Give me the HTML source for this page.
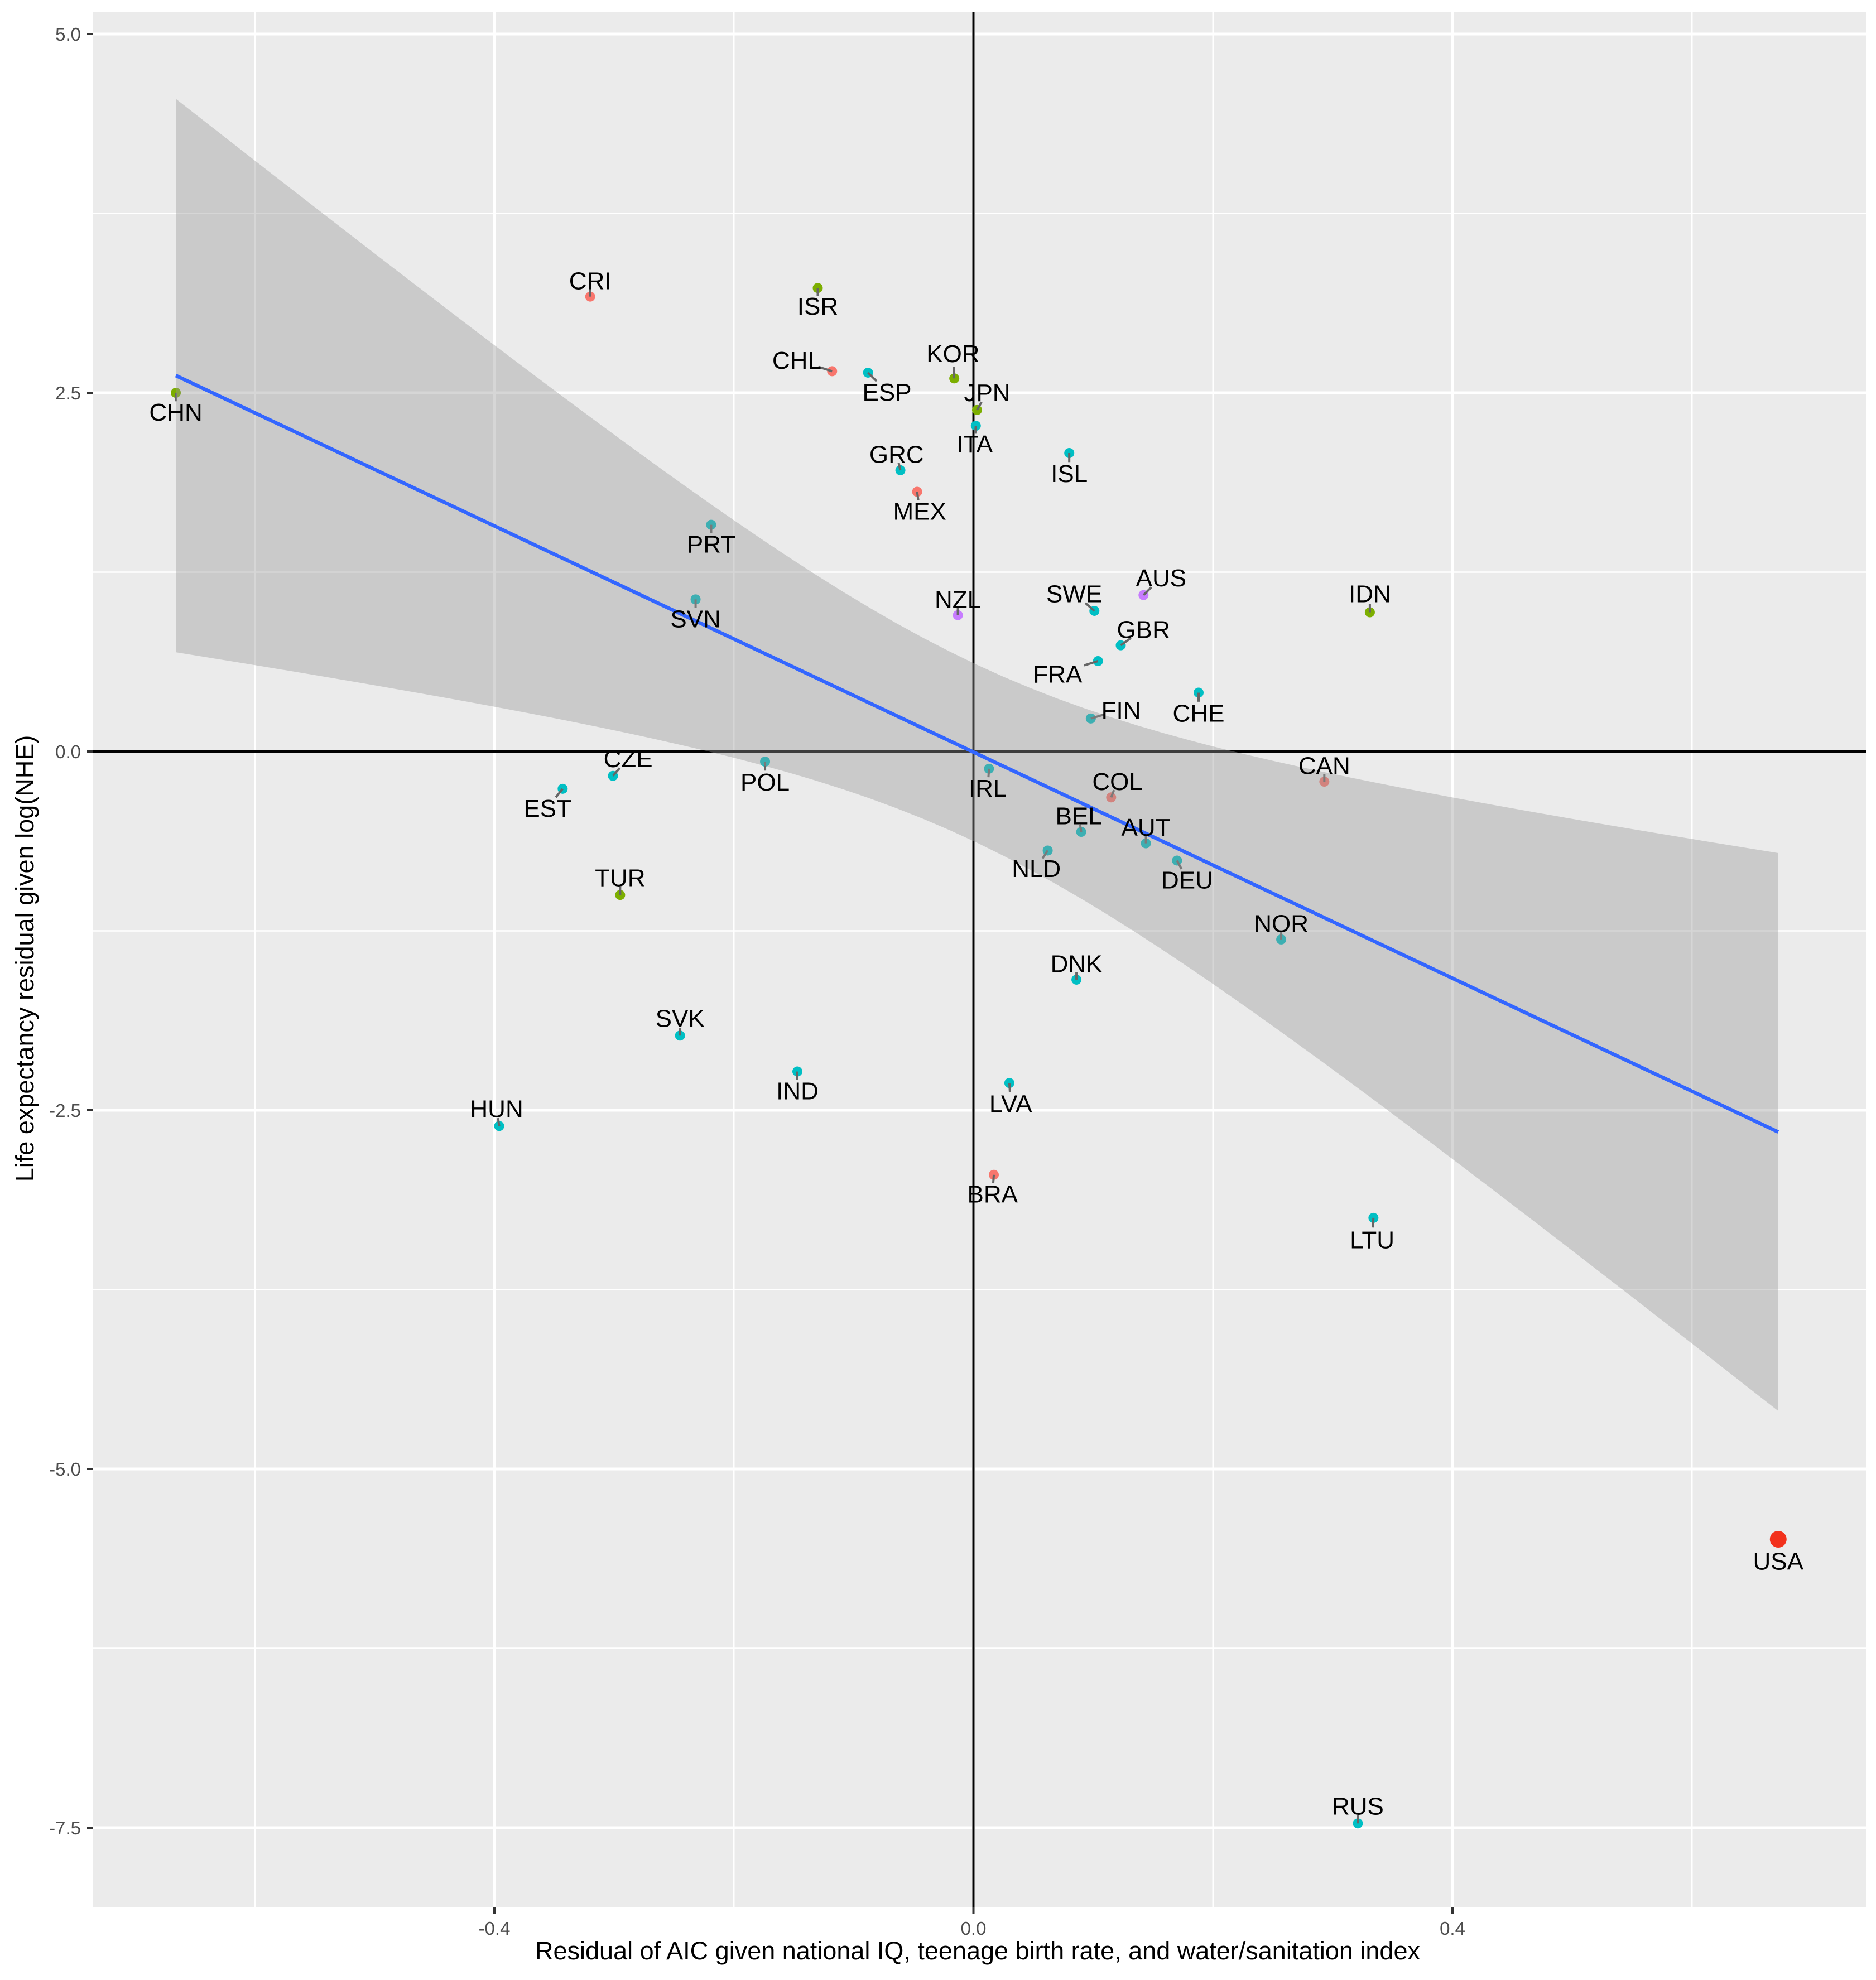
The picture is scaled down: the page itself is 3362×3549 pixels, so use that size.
<!DOCTYPE html>
<html><head><meta charset="utf-8"><style>
html,body{margin:0;padding:0;background:#fff;}
svg{display:block;}
text{font-family:"Liberation Sans",sans-serif;}
</style></head><body>
<svg id="chart" width="3362" height="3549" viewBox="0 0 3362 3549" xmlns="http://www.w3.org/2000/svg">
<rect x="167" y="22" width="3177" height="3397" fill="#EBEBEB"/>
<g id="grid"></g><g id="zero"></g><g id="pts"></g><g id="band"></g><g id="labels"></g><g id="axes"></g>
<text x="1752" y="3512" font-size="45" text-anchor="middle" fill="#000">Residual of AIC given national IQ, teenage birth rate, and water/sanitation index</text>
<text transform="translate(60,1718) rotate(-90)" font-size="45" text-anchor="middle" fill="#000">Life expectancy residual given log(NHE)</text>
</svg>
<script>
const countries=["CHN","CRI","ISR","CHL","ESP","KOR","JPN","ITA","GRC","MEX","ISL","PRT","SVN","NZL","SWE","AUS","IDN","GBR","FRA","CHE","FIN","CAN","CZE","EST","POL","IRL","COL","BEL","AUT","NLD","DEU","TUR","NOR","DNK","SVK","IND","LVA","HUN","BRA","LTU","USA","RUS"];
const xVals=[-0.666,-0.320,-0.130,-0.118,-0.088,-0.016,0.003,0.002,-0.061,-0.047,0.080,-0.219,-0.232,-0.013,0.101,0.142,0.331,0.123,0.104,0.188,0.098,0.293,-0.301,-0.343,-0.174,0.013,0.115,0.090,0.144,0.062,0.170,-0.295,0.257,0.086,-0.245,-0.147,0.030,-0.396,0.017,0.334,0.672,0.321];
const yVals=[2.50,3.17,3.23,2.65,2.64,2.60,2.38,2.27,1.96,1.81,2.08,1.58,1.06,0.95,0.98,1.09,0.97,0.74,0.63,0.41,0.23,-0.21,-0.17,-0.26,-0.07,-0.12,-0.32,-0.56,-0.64,-0.69,-0.76,-1.00,-1.31,-1.59,-1.98,-2.23,-2.31,-2.61,-2.95,-3.25,-5.49,-7.47];
const groups=["g","r","g","r","c","g","g","c","c","r","c","c","c","p","c","p","g","c","c","c","c","r","c","c","c","c","r","c","c","c","c","g","c","c","c","c","c","c","r","c","u","c"];
// label offsets (display units, scaled later)
const labOff=[[0,15],[0,-13],[0,14],[-28,-9],[15,15],[-1,-20],[8,-14],[-1,14],[-3,-13],[2,15],[0,16],[0,15],[0,15],[0,-13],[-16,-14],[14,-14],[0,-15],[18,-13],[-32,10],[0,16],[24,-7],[0,-13],[12,-14],[-12,15],[0,16],[-1,15],[5,-13],[-2,-13],[0,-13],[-9,14],[8,15],[0,-14],[0,-13],[0,-13],[0,-14],[0,15],[1,16],[-2,-14],[-1,15],[-1,17],[0,17],[0,-14]];
const xTicks=[-0.4,0.0,0.4], xTickLabels=["-0.4","0.0","0.4"];
const xMinor=[-0.6,-0.2,0.2,0.6];
const yTicks=[5.0,2.5,0.0,-2.5,-5.0,-7.5], yTickLabels=["5.0","2.5","0.0","-2.5","-5.0","-7.5"];
const yMinor=[3.75,1.25,-1.25,-3.75,-6.25];
const fitIntercept=-0.004, fitSlope=-3.94, fitX=[-0.666,0.672];
const se0=0.62, seSlope=2.742;
const colors={r:"#F8766D",g:"#7CAE00",c:"#00BFC4",p:"#C77CFF",u:"#F2311C"};
const NS="http://www.w3.org/2000/svg";
const L=167,R=3344,T=22,B=3419;
const X=v=>1744.5+v*2146.25, Y=v=>1347-v*257.2;
function mk(tag,attrs,parent){const e=document.createElementNS(NS,tag);for(const k in attrs)e.setAttribute(k,attrs[k]);parent.appendChild(e);return e;}
const grid=document.getElementById('grid');
xMinor.forEach(v=>{const e=mk('line',{x1:X(v),x2:X(v),y1:T,y2:B,stroke:'#fff','stroke-width':2.5},grid);

});
yMinor.forEach(v=>{const e=mk('line',{x1:L,x2:R,y1:Y(v),y2:Y(v),stroke:'#fff','stroke-width':2.5},grid);

});
xTicks.forEach(v=>{const e=mk('line',{x1:X(v),x2:X(v),y1:T,y2:B,stroke:'#fff','stroke-width':5},grid);

});
yTicks.forEach(v=>{const e=mk('line',{x1:L,x2:R,y1:Y(v),y2:Y(v),stroke:'#fff','stroke-width':5},grid);

});
const zero=document.getElementById('zero');
let z1=mk('line',{x1:X(0),x2:X(0),y1:T,y2:B,stroke:'#000','stroke-width':4},zero);


let z2=mk('line',{x1:L,x2:R,y1:Y(0),y2:Y(0),stroke:'#000','stroke-width':4},zero);


const pts=document.getElementById('pts'), labs=document.getElementById('labels');
const S=2.261;
countries.forEach((c,i)=>{
 const cx=X(xVals[i]), cy=Y(yVals[i]);
 const big=groups[i]==='u';
 const p=mk('circle',{cx:cx,cy:cy,r:big?15:9,fill:colors[groups[i]]},pts);
 
 
 const lx=cx+labOff[i][0]*S, ly=cy+labOff[i][1]*S;
 const dx=lx-cx, dy=ly-cy, d=Math.hypot(dx,dy);
 if(!big){const seg=mk('line',{x1:cx,y1:cy,x2:cx+dx/d*Math.min(d*0.45,26),y2:cy+dy/d*Math.min(d*0.45,26),stroke:'#666','stroke-width':4},pts);
 
 }
 const t=mk('text',{x:lx,y:ly+16,'font-size':44,'text-anchor':'middle',fill:'#000'},labs);
 t.textContent=c;
 
 
});
const band=document.getElementById('band');
const up=[],lo=[];
for(let k=0;k<=60;k++){const x=fitX[0]+(fitX[1]-fitX[0])*k/60;const f=fitIntercept+fitSlope*x;const hw=Math.sqrt(se0*se0+seSlope*seSlope*x*x);up.push([X(x),Y(f+hw)]);lo.push([X(x),Y(f-hw)]);}
const poly=up.concat(lo.reverse()).map(p=>p.join(',')).join(' ');
const bp=mk('polygon',{points:poly,fill:'#999999','fill-opacity':0.4},band);


const fl=mk('line',{x1:X(fitX[0]),y1:Y(fitIntercept+fitSlope*fitX[0]),x2:X(fitX[1]),y2:Y(fitIntercept+fitSlope*fitX[1]),stroke:'#3366FF','stroke-width':6.5},band);


const axes=document.getElementById('axes');
xTicks.forEach((v,i)=>{const tk=mk('line',{x1:X(v),x2:X(v),y1:B,y2:B+11,stroke:'#333','stroke-width':4},axes);


const t=mk('text',{x:X(v),y:B+49,'font-size':33,'text-anchor':'middle',fill:'#4D4D4D'},axes);t.textContent=xTickLabels[i];

});
yTicks.forEach((v,i)=>{const tk=mk('line',{x1:L-11,x2:L,y1:Y(v),y2:Y(v),stroke:'#333','stroke-width':4},axes);


const t=mk('text',{x:L-22,y:Y(v)+12,'font-size':33,'text-anchor':'end',fill:'#4D4D4D'},axes);t.textContent=yTickLabels[i];

});
</script>
</body></html>
